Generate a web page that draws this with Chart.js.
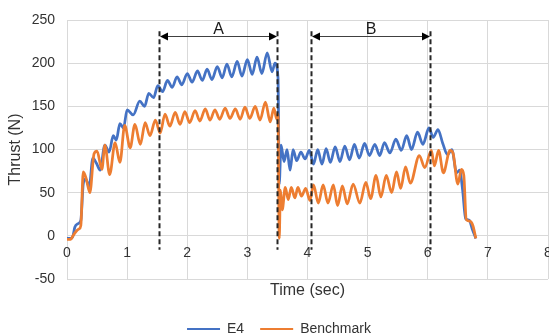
<!DOCTYPE html>
<html>
<head>
<meta charset="utf-8">
<script src="https://cdn.jsdelivr.net/npm/chart.js@4/dist/chart.umd.min.js"></script>
<style>
  html, body { margin: 0; padding: 0; background: #ffffff; }
  #wrap { width: 549px; height: 336px; position: relative; }
</style>
</head>
<body>
<div id="wrap"><canvas id="c"></canvas></div>
<script>
// ---------- data ----------
const seriesNames = ['E4', 'Benchmark'];

const e4Time = [0.00,0.06,0.10,0.13,0.18,0.23,0.27,0.31,0.37,0.43,0.49,0.55,0.63,0.70,0.77,0.82,0.88,0.94,1.00,1.10,
  1.21,1.29,1.36,1.44,1.51,1.59,1.67,1.75,1.83,1.91,2.00,2.08,2.17,2.25,2.33,2.41,2.50,2.58,2.66,2.74,
  2.83,2.91,3.00,3.08,3.16,3.24,3.33,3.41,3.46,3.51,3.53,3.56,3.61,3.66,3.71,3.76,3.82,3.89,3.96,4.03,
  4.10,4.17,4.24,4.31,4.38,4.46,4.54,4.62,4.70,4.78,4.86,4.95,5.03,5.12,5.20,5.28,5.37,5.47,5.56,5.65,
  5.73,5.83,5.92,6.02,6.09,6.17,6.25,6.33,6.40,6.48,6.53,6.58,6.63,6.69,6.74,6.80];
const e4Thrust = [-3,-3,0,10,14,18,60,66,57,90,84,76,105,97,116,111,130,125,146,140,
  156,150,165,160,174,167,180,172,184,175,188,178,191,180,193,181,196,183,199,184,
  202,185,204,187,207,188,212,190,200,183,60,105,86,100,76,100,87,97,89,99,
  83,100,83,101,85,103,86,104,88,106,90,107,93,106,93,108,96,112,99,116,
  100,120,106,125,114,123,107,94,100,73,76,53,20,18,8,-3];

const benchTime = [0.00,0.06,0.10,0.15,0.20,0.23,0.27,0.32,0.38,0.45,0.50,0.58,0.63,0.71,0.80,0.88,0.96,1.05,1.13,1.22,
  1.30,1.38,1.47,1.55,1.63,1.71,1.80,1.88,1.96,2.04,2.13,2.21,2.30,2.38,2.46,2.54,2.63,2.71,2.80,2.88,
  2.96,3.04,3.13,3.21,3.30,3.38,3.44,3.49,3.51,3.53,3.55,3.58,3.63,3.68,3.73,3.79,3.84,3.90,3.97,4.04,
  4.10,4.18,4.26,4.34,4.43,4.50,4.58,4.66,4.76,4.87,4.97,5.05,5.14,5.22,5.31,5.40,5.48,5.55,5.63,5.71,
  5.86,5.95,6.06,6.11,6.18,6.26,6.37,6.42,6.50,6.56,6.60,6.64,6.70,6.75,6.80];
const benchThrust = [-4,-4,0,5,8,12,74,66,50,95,98,77,105,71,108,85,128,102,129,106,
  131,116,134,119,141,127,143,129,144,131,145,133,147,134,146,135,148,136,147,135,
  149,136,150,134,155,132,148,135,141,-3,53,30,56,42,56,44,56,46,55,41,
  59,38,59,38,59,35,58,37,60,38,62,43,70,45,70,50,74,55,80,61,
  93,79,99,81,99,73,99,96,60,77,70,19,17,12,-3];

const xTicks = [0, 1, 2, 3, 4, 5, 6, 7, 8];
const yTicks = [-50, 0, 50, 100, 150, 200, 250];

const markerTimes = [1.53, 3.49, 4.05, 6.03];
const spanLabels = ['A', 'B'];
const spanStart = [1.53, 4.05];
const spanEnd = [3.49, 6.03];
const markerTop = 237, markerBottom = -16, arrowLevel = 232;

// ---------- helpers ----------
const toPoints = (ts, vs) => ts.map((t, i) => ({ x: t, y: vs[i] }));
const FONT = "'Liberation Sans', Arial, sans-serif";
const TEXT = '#333333';
const GRID = '#d9d9d9';

const spanPlugin = {
  id: 'spans',
  afterDatasetsDraw(chart) {
    const { ctx } = chart;
    const x = chart.scales.x, y = chart.scales.y;
    ctx.save();
    ctx.strokeStyle = '#262626';
    ctx.lineWidth = 2;
    ctx.setLineDash([5, 3]);
    markerTimes.forEach(t => {
      const px = Math.round(x.getPixelForValue(t)) + 0.5;
      ctx.beginPath();
      ctx.moveTo(px, y.getPixelForValue(markerTop));
      ctx.lineTo(px, y.getPixelForValue(markerBottom));
      ctx.stroke();
    });
    ctx.setLineDash([]);
    const ay = Math.round(y.getPixelForValue(arrowLevel)) + 0.5;
    spanLabels.forEach((lab, i) => {
      const x0 = Math.round(x.getPixelForValue(spanStart[i])) + 1;
      const x1 = Math.round(x.getPixelForValue(spanEnd[i]));
      ctx.strokeStyle = '#404040';
      ctx.fillStyle = '#000000';
      ctx.lineWidth = 1;
      ctx.beginPath();
      ctx.moveTo(x0 + 6, ay);
      ctx.lineTo(x1 - 6, ay);
      ctx.stroke();
      ctx.beginPath();
      ctx.moveTo(x0, ay);
      ctx.lineTo(x0 + 8, ay - 4);
      ctx.lineTo(x0 + 8, ay + 4);
      ctx.closePath();
      ctx.fill();
      ctx.beginPath();
      ctx.moveTo(x1, ay);
      ctx.lineTo(x1 - 8, ay - 4);
      ctx.lineTo(x1 - 8, ay + 4);
      ctx.closePath();
      ctx.fill();
      ctx.font = '16px ' + FONT;
      ctx.fillStyle = '#1a1a1a';
      ctx.textAlign = 'center';
      ctx.textBaseline = 'alphabetic';
      ctx.fillText(lab, (x0 + x1) / 2, ay - 3);
    });
    ctx.restore();
  }
};

new Chart(document.getElementById('c'), {
  type: 'line',
  data: {
    datasets: [
      {
        label: seriesNames[0],
        data: toPoints(e4Time, e4Thrust),
        borderColor: '#4472C4',
        backgroundColor: '#4472C4',
        borderWidth: 2.75,
        pointRadius: 0,
        cubicInterpolationMode: 'monotone',
        order: 2
      },
      {
        label: seriesNames[1],
        data: toPoints(benchTime, benchThrust),
        borderColor: '#ED7D31',
        backgroundColor: '#ED7D31',
        borderWidth: 2.75,
        pointRadius: 0,
        cubicInterpolationMode: 'monotone',
        order: 1
      }
    ]
  },
  options: {
    responsive: true,
    maintainAspectRatio: false,
    animation: false,
    devicePixelRatio: 1,
    layout: { padding: { top: 20, right: 1, left: 10, bottom: -10 } },
    plugins: {
      tooltip: { enabled: false },
      legend: {
        position: 'bottom',
        labels: {
          usePointStyle: true,
          pointStyle: 'line',
          pointStyleWidth: 33,
          padding: 16,
          color: TEXT,
          font: { family: FONT, size: 14 },
          sort: (a, b) => a.datasetIndex - b.datasetIndex,
          generateLabels: chart => Chart.defaults.plugins.legend.labels.generateLabels(chart)
            .map(item => Object.assign(item, { lineWidth: 2 }))
        }
      }
    },
    scales: {
      x: {
        type: 'linear',
        position: 'bottom',
        min: xTicks[0],
        max: xTicks[xTicks.length - 1],
        afterBuildTicks: s => { s.ticks = xTicks.map(v => ({ value: v })); },
        ticks: { display: false },
        grid: { color: GRID, lineWidth: 1, drawTicks: false },
        border: { display: false },
        title: {
          display: true,
          text: 'Time (sec)',
          color: TEXT,
          font: { family: FONT, size: 16 },
          padding: { top: 0, bottom: 6 }
        },
        afterFit: s => { s.height = 27; s.paddingLeft = 0; s.paddingRight = 0; }
      },
      x2: {
        type: 'linear',
        position: { y: 0 },
        min: xTicks[0],
        max: xTicks[xTicks.length - 1],
        afterBuildTicks: s => { s.ticks = xTicks.map(v => ({ value: v })); },
        ticks: { color: TEXT, font: { family: FONT, size: 14 }, padding: 9, maxRotation: 0, autoSkip: false },
        grid: { display: false, drawTicks: false },
        border: { display: false },
        afterFit: s => { s.paddingLeft = 0; s.paddingRight = 0; }
      },
      y: {
        type: 'linear',
        position: 'left',
        min: yTicks[0],
        max: yTicks[yTicks.length - 1],
        afterBuildTicks: s => { s.ticks = yTicks.map(v => ({ value: v })); },
        ticks: { color: TEXT, font: { family: FONT, size: 14 }, padding: 12 },
        grid: { color: GRID, lineWidth: 1, drawTicks: false },
        border: { display: false },
        title: {
          display: true,
          text: 'Thrust (N)',
          color: TEXT,
          font: { family: FONT, size: 16 },
          padding: { top: -4, bottom: 0 }
        },
        afterFit: s => { s.width = 57; s.paddingTop = 0; s.paddingBottom = 0; }
      }
    }
  },
  plugins: [spanPlugin]
});
</script>
</body>
</html>
